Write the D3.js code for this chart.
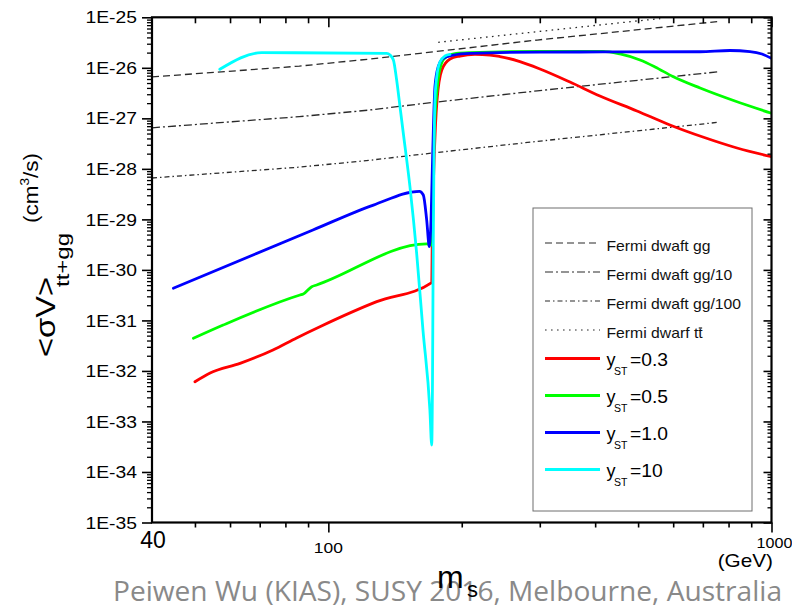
<!DOCTYPE html>
<html>
<head>
<meta charset="utf-8">
<script src="https://cdn.jsdelivr.net/npm/d3@7"></script>
<style>
  body { margin: 0; background: #fff; }
  svg { display: block; }
</style>
</head>
<body>
<svg id="chart" width="792" height="611"></svg>
<script>
// ---- data: [m_s (GeV), <sigma v> (cm^3/s)] ----
const fermiGG = [[40, 6.6e-27], [86, 1.08e-26], [124, 1.49e-26], [161, 1.93e-26], [296, 3.55e-26], [754, 8.2e-26]];
const fermiGG10 = [[40, 6.5e-28], [86, 1.08e-27], [124, 1.46e-27], [161, 1.93e-27], [296, 3.5e-27], [754, 8.3e-27]];
const fermiGG100 = [[40, 6.6e-29], [86, 1.08e-28], [124, 1.48e-28], [161, 1.93e-28], [296, 3.5e-28], [754, 8.3e-28]];
const fermiTT = [[177, 3.2e-26], [506, 8.6e-26], [561, 9.4e-26]];

const yst03 = [[50, 6.1e-33], [54.1, 9.1e-33], [63.2, 1.41e-32], [75, 2.6e-32], [84.8, 4.5e-32], [95.7, 7.5e-32],
  [128.6, 2.35e-31], [171.1, 5.6e-31], [171.6, 3.9e-30], [172.7, 6.0e-29], [174.5, 7.4e-28], [175.9, 2.3e-27],
  [180.3, 9.1e-27], [188.2, 1.5e-26], [198.2, 1.71e-26], [214.2, 1.84e-26], [231.5, 1.79e-26], [243.9, 1.67e-26],
  [270.6, 1.33e-26], [300.3, 9.5e-27], [351, 5.24e-27], [410, 2.77e-27], [497, 1.4e-27], [590, 7.4e-28],
  [700, 4.27e-28], [836, 2.59e-28], [1000, 1.74e-28]];

const yst05 = [[49.6, 4.43e-32], [57.9, 8.1e-32], [86.3, 3.18e-31], [87.8, 3.33e-31], [91.7, 4.65e-31], [94.1, 5.02e-31],
  [166.7, 3.26e-30], [171.1, 3.11e-30], [171.8, 2.42e-29], [173.1, 3.7e-28], [175.9, 3.64e-27], [179.8, 1.19e-26],
  [184.5, 1.66e-26], [194.4, 1.92e-26], [208.7, 2.0e-26], [300, 2.12e-26], [416.6, 2.12e-26], [455, 1.88e-26],
  [505, 1.43e-26], [546, 1.04e-26], [599, 6.73e-27], [690, 3.98e-27], [827, 2.2e-27], [1000, 1.26e-27]];

const yst10 = [[44.7, 4.33e-31], [92.3, 6.17e-30], [126.4, 1.92e-29], [160.5, 3.6e-29],
  [163.8, 3.04e-29], [166.7, 9.7e-30], [169, 2.88e-30], [170.5, 9.7e-30], [172, 2.06e-28], [174, 4.23e-27],
  [177, 1.05e-26], [181.7, 1.54e-26], [191.4, 1.79e-26], [208.7, 1.94e-26], [300.3, 2.05e-26], [416.6, 2.06e-26],
  [689.6, 2.08e-26], [806, 2.2e-26], [894, 2.1e-26], [951.6, 1.88e-26], [1000, 1.54e-26]];

const yst100 = [[56.9, 9.35e-27], [70.7, 1.99e-26], [135.4, 1.94e-26], [137.8, 1.79e-26], [140.2, 1.43e-26], [142.6, 5.74e-27],
  [145.1, 1.7e-27], [147.6, 5.13e-28], [152.8, 4.44e-29], [158.2, 2.16e-30], [163.5, 6.45e-32], [169.5, 1.68e-33],
  [171.1, 3.41e-34], [171.8, 6.6e-33], [172.2, 2.53e-31], [172.5, 3.9e-30], [173.1, 1.5e-28], [174, 2.3e-27],
  [175.6, 6.58e-27], [178.6, 1.3e-26], [183.3, 1.71e-26], [188.2, 1.84e-26]];

// ---- ticks and labels ----
const yTickValues = [1e-35, 1e-34, 1e-33, 1e-32, 1e-31, 1e-30, 1e-29, 1e-28, 1e-27, 1e-26, 1e-25];
const yTickLabels = ["1E-35", "1E-34", "1E-33", "1E-32", "1E-31", "1E-30", "1E-29", "1E-28", "1E-27", "1E-26", "1E-25"];
const xMajorTicks = [100, 1000];
const xMinorTicks = [50, 60, 70, 80, 90, 200, 300, 400, 500, 600, 700, 800, 900];

const fermiLabels = ["Fermi dwaft gg", "Fermi dwaft gg/10", "Fermi dwaft gg/100", "Fermi dwarf tt"];
const ystLabels = ["=0.3", "=0.5", "=1.0", "=10"];
const ystColors = ["#ff0000", "#00ff00", "#0000ff", "#00ffff"];
const footerText = "Peiwen Wu (KIAS), SUSY 2016, Melbourne, Australia";

// ---- layout ----
const svg = d3.select("#chart");
const plot = { x0: 152, x1: 771.5, y0: 17.3, y1: 522.5 };
const FONT = "'Liberation Sans', Arial, Helvetica, sans-serif";

const x = d3.scaleLog().domain([40, 1000]).range([plot.x0, plot.x1]);
const y = d3.scaleLog().domain([1e-35, 1e-25]).range([plot.y1, plot.y0]);

// widen text horizontally by a factor
function stretch(sel, f) {
  sel.each(function () {
    const L = this.getComputedTextLength();
    if (L > 0) {
      this.setAttribute("textLength", (L * f).toFixed(2));
      this.setAttribute("lengthAdjust", "spacingAndGlyphs");
    }
  });
}

// footer line (lies underneath the x title)
svg.append("text")
  .attr("x", 113).attr("y", 601)
  .attr("font-family", "'Open Sans', 'Noto Sans', sans-serif")
  .attr("font-size", 28)
  .attr("fill", "#898989")
  .attr("textLength", 669).attr("lengthAdjust", "spacingAndGlyphs")
  .text(footerText);

svg.append("defs").append("clipPath").attr("id", "plotClip")
  .append("rect")
  .attr("x", plot.x0).attr("y", plot.y0)
  .attr("width", plot.x1 - plot.x0).attr("height", plot.y1 - plot.y0);

const straight = d3.line().x(d => x(d[0])).y(d => y(d[1]));
const smooth = d3.line().x(d => x(d[0])).y(d => y(d[1])).curve(d3.curveMonotoneX);

const fermiSeries = [
  { data: fermiGG, dash: "7,4" },
  { data: fermiGG10, dash: "8,3,2,3" },
  { data: fermiGG100, dash: "5,3,1.5,3" },
  { data: fermiTT, dash: "1.6,4.4" }
];
const modelSeries = [yst03, yst05, yst10, yst100];

const curves = svg.append("g").attr("clip-path", "url(#plotClip)");

curves.selectAll("path.fermi")
  .data(fermiSeries)
  .join("path")
  .attr("class", "fermi")
  .attr("d", d => straight(d.data))
  .attr("fill", "none")
  .attr("stroke", "#2a2a2a")
  .attr("stroke-width", 1.3)
  .attr("stroke-dasharray", d => d.dash);

curves.selectAll("path.model")
  .data(modelSeries)
  .join("path")
  .attr("class", "model")
  .attr("d", d => smooth(d))
  .attr("fill", "none")
  .attr("stroke", (d, i) => ystColors[i])
  .attr("stroke-width", 2.8)
  .attr("stroke-linejoin", "round")
  .attr("stroke-linecap", "round");

// ---- axes ----
const yMinor = [];
for (let e = -35; e < -25; e++) for (let j = 2; j <= 9; j++) yMinor.push(j * Math.pow(10, e));

function styleAxis(g, w) {
  g.select(".domain").remove();
  g.selectAll(".tick line").attr("stroke", "#000").attr("stroke-width", w);
}

// left
const leftMajor = svg.append("g").attr("transform", `translate(${plot.x0},0)`)
  .call(d3.axisLeft(y).tickValues(yTickValues).tickSize(10).tickPadding(5)
    .tickFormat((d, i) => yTickLabels[i]));
styleAxis(leftMajor, 1.6);
leftMajor.selectAll(".tick text")
  .attr("font-family", FONT).attr("font-size", 16.5).attr("fill", "#000")
  .attr("dy", "0.34em");
stretch(leftMajor.selectAll(".tick text"), 1.17);

const leftMinor = svg.append("g").attr("transform", `translate(${plot.x0},0)`)
  .call(d3.axisLeft(y).tickValues(yMinor).tickSize(5).tickFormat(""));
styleAxis(leftMinor, 1.3);

// right (inward ticks)
const rightMajor = svg.append("g").attr("transform", `translate(${plot.x1},0)`)
  .call(d3.axisRight(y).tickValues(yTickValues).tickSize(-8).tickFormat(""));
styleAxis(rightMajor, 1.6);
const rightMinor = svg.append("g").attr("transform", `translate(${plot.x1},0)`)
  .call(d3.axisRight(y).tickValues(yMinor).tickSize(-4).tickFormat(""));
styleAxis(rightMinor, 1.3);

// top (inward ticks)
const topMajor = svg.append("g").attr("transform", `translate(0,${plot.y0})`)
  .call(d3.axisTop(x).tickValues(xMajorTicks).tickSize(-10).tickFormat(""));
styleAxis(topMajor, 1.6);
const topMinor = svg.append("g").attr("transform", `translate(0,${plot.y0})`)
  .call(d3.axisTop(x).tickValues(xMinorTicks).tickSize(-6).tickFormat(""));
styleAxis(topMinor, 1.6);

// bottom
const bottomMajor = svg.append("g").attr("transform", `translate(0,${plot.y1})`)
  .call(d3.axisBottom(x).tickValues(xMajorTicks).tickSize(10).tickFormat(""));
styleAxis(bottomMajor, 1.6);
const bottomMinor = svg.append("g").attr("transform", `translate(0,${plot.y1})`)
  .call(d3.axisBottom(x).tickValues(xMinorTicks).tickSize(5).tickFormat(""));
styleAxis(bottomMinor, 1.6);

// frame
svg.append("rect")
  .attr("x", plot.x0).attr("y", plot.y0)
  .attr("width", plot.x1 - plot.x0).attr("height", plot.y1 - plot.y0)
  .attr("fill", "none").attr("stroke", "#000").attr("stroke-width", 2.2);

// x tick labels
svg.append("text").attr("x", x(40) + 1).attr("y", 548)
  .attr("text-anchor", "middle").attr("font-family", FONT).attr("font-size", 23)
  .text("40");
const l100 = svg.append("text").attr("x", x(100)).attr("y", 553)
  .attr("text-anchor", "middle").attr("font-family", FONT).attr("font-size", 14.5)
  .text("100");
stretch(l100, 1.2);
const l1000 = svg.append("text").attr("x", x(1000) + 3).attr("y", 548)
  .attr("text-anchor", "middle").attr("font-family", FONT).attr("font-size", 14)
  .text("1000");
stretch(l1000, 1.15);
const gev = svg.append("text").attr("x", 773).attr("y", 567)
  .attr("text-anchor", "end").attr("font-family", FONT).attr("font-size", 18.5)
  .text("(GeV)");
stretch(gev, 1.12);

// x title m_s
svg.append("text").attr("x", 437).attr("y", 588)
  .attr("font-family", FONT).attr("font-size", 32).text("m");
svg.append("text").attr("x", 467).attr("y", 597)
  .attr("font-family", FONT).attr("font-size", 22).text("s");

// y title
const sv = svg.append("text").attr("transform", "translate(55,317) rotate(-90)")
  .attr("text-anchor", "middle").attr("font-family", FONT).attr("font-size", 28)
  .text("<σV>");
sv.attr("textLength", 80).attr("lengthAdjust", "spacingAndGlyphs");
svg.append("text").attr("transform", "translate(69,260) rotate(-90)")
  .attr("text-anchor", "middle").attr("font-family", FONT).attr("font-size", 19)
  .attr("textLength", 54).attr("lengthAdjust", "spacingAndGlyphs")
  .text("tt+gg");
const unit = svg.append("text").attr("transform", "translate(38,188) rotate(-90)")
  .attr("text-anchor", "middle").attr("font-family", FONT).attr("font-size", 20);
unit.append("tspan").text("(cm");
unit.append("tspan").attr("font-size", 12).attr("dy", -9).text("3");
unit.append("tspan").attr("dy", 9).text("/s)");
unit.attr("textLength", 70).attr("lengthAdjust", "spacingAndGlyphs");

// ---- legend ----
const legend = svg.append("g");
legend.append("rect")
  .attr("x", 533).attr("y", 208).attr("width", 219).attr("height", 303)
  .attr("fill", "#fff").attr("stroke", "#6e6e6e").attr("stroke-width", 1);

const fermiRows = [243, 272, 301, 330];
fermiSeries.forEach((s, i) => {
  legend.append("line")
    .attr("x1", 545).attr("x2", 600).attr("y1", fermiRows[i]).attr("y2", fermiRows[i])
    .attr("stroke", "#2a2a2a").attr("stroke-width", 1.2).attr("stroke-dasharray", s.dash);
  const t = legend.append("text")
    .attr("x", 606.5).attr("y", fermiRows[i] + 8)
    .attr("font-family", FONT).attr("font-size", 14.3).attr("fill", "#111")
    .text(fermiLabels[i]);
  stretch(t, 1.1);
  if (i === 3) {
    // bar over the second t
    const node = t.node();
    const n = fermiLabels[i].length;
    const b = node.getExtentOfChar(n - 1);
    legend.append("line")
      .attr("x1", b.x + 0.5).attr("x2", b.x + b.width - 0.5)
      .attr("y1", fermiRows[i] - 2).attr("y2", fermiRows[i] - 2)
      .attr("stroke", "#111").attr("stroke-width", 1.1);
  }
});

const ystRows = [366, 403, 440, 477];
ystLabels.forEach((lab, i) => {
  const b = ystRows[i];
  legend.append("line")
    .attr("x1", 545).attr("x2", 600).attr("y1", b - 7.5).attr("y2", b - 7.5)
    .attr("stroke", ystColors[i]).attr("stroke-width", 3.2);
  legend.append("text").attr("x", 606.5).attr("y", b)
    .attr("font-family", FONT).attr("font-size", 18).text("y");
  legend.append("text").attr("x", 614).attr("y", b + 9)
    .attr("font-family", FONT).attr("font-size", 10.5).text("ST");
  const v = legend.append("text").attr("x", 630).attr("y", b)
    .attr("font-family", FONT).attr("font-size", 17.5).text(lab);
  stretch(v, 1.1);
});
</script>
</body>
</html>
